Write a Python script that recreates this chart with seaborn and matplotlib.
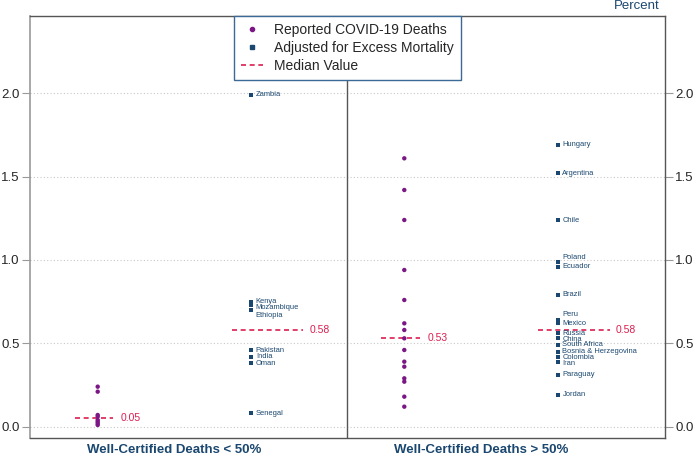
import numpy as np
import pandas as pd
import matplotlib
matplotlib.use("Agg")
import matplotlib.pyplot as plt
from matplotlib.lines import Line2D
import seaborn as sns

# ---------------- data ----------------
groups = ["Well-Certified Deaths < 50%", "Well-Certified Deaths > 50%"]

low_reported = [0.24, 0.21, 0.07, 0.06, 0.04, 0.03, 0.02, 0.01]
low_adjusted_countries = ["Zambia", "Kenya", "Mozambique", "Ethiopia",
                          "Pakistan", "India", "Oman", "Senegal"]
low_adjusted = [1.99, 0.75, 0.73, 0.70, 0.46, 0.42, 0.38, 0.08]

high_reported = [1.61, 1.42, 1.24, 0.94, 0.76, 0.62, 0.58, 0.53,
                 0.46, 0.39, 0.36, 0.29, 0.27, 0.18, 0.12]
high_adjusted_countries = ["Hungary", "Argentina", "Chile", "Poland", "Ecuador",
                           "Brazil", "Peru", "Mexico", "Russia", "China",
                           "South Africa", "Bosnia & Herzegovina", "Colombia",
                           "Iran", "Paraguay", "Jordan"]
high_adjusted = [1.69, 1.52, 1.24, 0.99, 0.96, 0.79, 0.64, 0.62, 0.56, 0.53,
                 0.49, 0.45, 0.42, 0.39, 0.31, 0.19]

medians_reported = [0.05, 0.53]
medians_adjusted = [0.58, 0.58]

yticks = [0.0, 0.5, 1.0, 1.5, 2.0]

# label nudges for crowded country names (styling only)
label_nudge = {"Mozambique": -0.015, "Ethiopia": -0.035, "Peru": 0.03,
               "Poland": 0.025, "Russia": 0.0, "China": -0.005,
               "Colombia": -0.005, "Iran": -0.01}

# ---------------- build frame ----------------
rows = []
for v in low_reported:
    rows.append(dict(pos=0, value=v, series="Reported COVID-19 Deaths", country=""))
for c, v in zip(low_adjusted_countries, low_adjusted):
    rows.append(dict(pos=1, value=v, series="Adjusted for Excess Mortality", country=c))
for v in high_reported:
    rows.append(dict(pos=2, value=v, series="Reported COVID-19 Deaths", country=""))
for c, v in zip(high_adjusted_countries, high_adjusted):
    rows.append(dict(pos=3, value=v, series="Adjusted for Excess Mortality", country=c))
df = pd.DataFrame(rows)

PURPLE = "#7b1685"
NAVY = "#1a476f"
RED = "#dc1e50"

sns.set_style("white")
plt.rcParams["font.family"] = ["Liberation Sans", "DejaVu Sans"]

fig = plt.figure(figsize=(6.94, 4.55), dpi=100)
ax = fig.add_axes([30 / 694, 1 - 437.5 / 455, 635 / 694, (437.5 - 16) / 455])

# grid
for t in yticks:
    ax.axhline(t, color="#c8c8c8", lw=0.8, ls=(0, (1, 2)), zorder=0)

rep = df[df.series == "Reported COVID-19 Deaths"]
adj = df[df.series == "Adjusted for Excess Mortality"]
sns.scatterplot(data=rep, x="pos", y="value", color=PURPLE, marker="o", s=10,
                edgecolor="none", ax=ax, legend=False, zorder=3)
sns.scatterplot(data=adj, x="pos", y="value", color=NAVY, marker="s", s=8,
                edgecolor="none", ax=ax, legend=False, zorder=3)

# country labels
for _, r in adj.iterrows():
    ax.annotate(r.country, (r.pos, r.value + label_nudge.get(r.country, 0.0)),
                xytext=(3.5, 0), textcoords="offset points", va="center",
                ha="left", fontsize=5.4, color=NAVY)

# median lines
for i, m in enumerate(medians_reported):
    x0 = 2 * i
    ax.plot([x0 - 0.15, x0 + 0.1], [m, m], color=RED, ls=(0, (3, 2.2)), lw=1.2, zorder=2)
    ax.text(x0 + 0.15, m, f"{m:.2f}", color=RED, fontsize=7.5, va="center", ha="left")
for i, m in enumerate(medians_adjusted):
    x0 = 2 * i + 1
    ax.plot([x0 - 0.125, x0 + 0.34], [m, m], color=RED, ls=(0, (3, 2.2)), lw=1.2, zorder=2)
    ax.text(x0 + 0.38, m, f"{m:.2f}", color=RED, fontsize=7.5, va="center", ha="left")

# divider
ax.axvline(1.626, color="#555555", lw=1.0, zorder=1)

ax.set_xlim(-0.4416, 3.7006)
ax.set_ylim(-0.065, 2.464)
ax.set_xticks([0.5, 2.5])
ax.set_xticklabels(groups, fontsize=9.5, fontweight="bold", color=NAVY)
ax.tick_params(axis="x", length=0, pad=5)
ax.set_yticks(yticks)
ax.set_yticklabels([f"{t:.1f}" for t in yticks], fontsize=9.5)
ax.tick_params(axis="y", left=True, right=True, labelleft=True, labelright=True,
               length=6, width=0.8, color="#999999", pad=1.5)
ax.set_xlabel("")
ax.set_ylabel("")

for s in ["top", "bottom", "right"]:
    ax.spines[s].set_color("#555555")
    ax.spines[s].set_linewidth(1.0)
ax.spines["left"].set_color("#999999")
ax.spines["left"].set_linewidth(1.2)

fig.text(637 / 694, 1 - 6 / 455, "Percent", fontsize=9.5, color=NAVY,
         ha="center", va="center")

handles = [
    Line2D([], [], ls="none", marker="o", color=PURPLE, markersize=3),
    Line2D([], [], ls="none", marker="s", color=NAVY, markersize=2.6),
    Line2D([], [], color=RED, ls=(0, (3, 2.2)), lw=1.2),
]
labels = ["Reported COVID-19 Deaths", "Adjusted for Excess Mortality", "Median Value"]
leg = ax.legend(handles, labels, loc="upper center", bbox_to_anchor=(0.4995, 1.0),
                borderaxespad=0, frameon=True, fancybox=False, fontsize=10,
                handlelength=1.6, handletextpad=0.8, borderpad=0.5,
                labelspacing=0.3, framealpha=1)
leg.get_frame().set_edgecolor("#3b6a96")
leg.get_frame().set_linewidth(1.0)

fig.savefig("out.png", dpi=100, facecolor="white")
